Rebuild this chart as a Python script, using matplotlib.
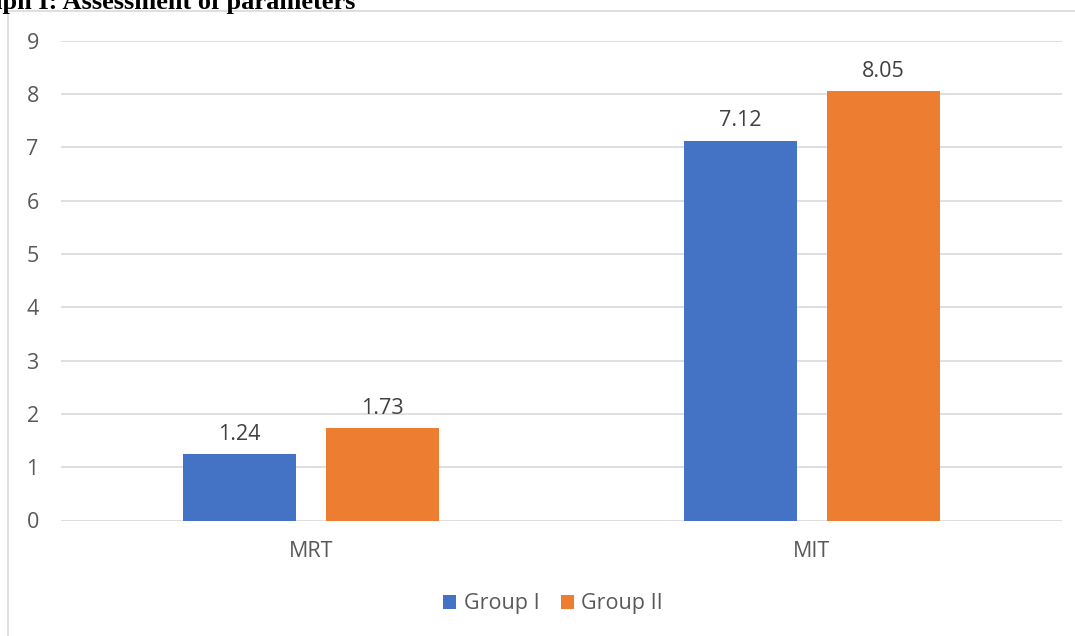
import matplotlib
matplotlib.use('Agg')
import matplotlib.pyplot as plt
from matplotlib.patches import Rectangle
import numpy as np

categories = ['MRT', 'MIT']
group1 = [1.24, 7.12]
group2 = [1.73, 8.05]
series_names = ['Group I', 'Group II']
yticks = [0, 1, 2, 3, 4, 5, 6, 7, 8, 9]
title = 'Graph I: Assessment of parameters'

W, H = 1075, 636
fig = plt.figure(figsize=(W / 100, H / 100), dpi=100)
plt.rcParams['font.family'] = ['Open Sans', 'DejaVu Sans']
fs = 15.5

# outer chart border (cropped screenshot, only top/left visible)
fig.patches.append(Rectangle((8 / W, -0.05), 1.1, 1 - 11 / H + 0.05,
                             transform=fig.transFigure, fill=False,
                             edgecolor='#d9d9d9', linewidth=1.2))

# caption above the chart, cut by the screenshot edge as in the original
fig.text(355 / W, 1 - 9 / H, title, ha='right', va='baseline',
         fontsize=19, fontweight='bold', family='Liberation Serif', color='black')

ax = fig.add_axes([61 / W, 1 - 520.5 / H, (1062 - 61) / W, (520.5 - 40.7) / H])
x = np.arange(len(categories))
b1 = ax.bar(x - 0.143, group1, width=0.226, color='#4472C4', label=series_names[0], zorder=3)
b2 = ax.bar(x + 0.143, group2, width=0.226, color='#ED7D31', label=series_names[1], zorder=3)

for bars in (b1, b2):
    ax.bar_label(bars, labels=['%.2f' % v for v in bars.datavalues], padding=7,
                 fontsize=fs, color='#404040')

ax.set_xlim(-0.5, 1.5)
ax.set_ylim(0, 9)
ax.set_yticks(yticks)
ax.set_xticks(x)
ax.set_xticklabels(categories)
ax.tick_params(axis='y', length=0, pad=16, labelsize=fs, labelcolor='#595959')
ax.tick_params(axis='x', length=0, pad=15, labelsize=fs, labelcolor='#595959')
ax.grid(axis='y', color='#d9d9d9', linewidth=1.2, zorder=0)
for s in ax.spines.values():
    s.set_visible(False)

fig.legend(loc='center', bbox_to_anchor=(553 / W, 1 - 604 / H), ncol=2, frameon=False,
           fontsize=fs, labelcolor='#595959', handlelength=0.6, handleheight=0.6,
           handletextpad=0.35, columnspacing=1.0)

plt.savefig('out.png', dpi=100)
